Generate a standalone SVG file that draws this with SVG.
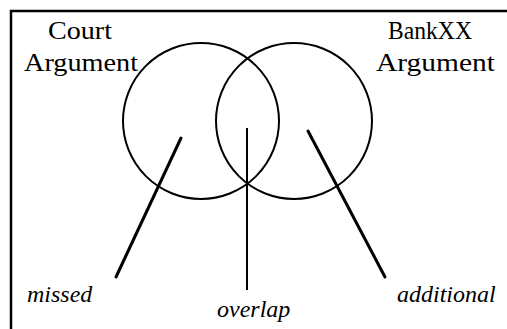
<svg xmlns="http://www.w3.org/2000/svg" width="507" height="329" viewBox="0 0 507 329">
<style>
.frame{fill:none;stroke:#000;stroke-width:2.5}
.circ{fill:none;stroke:#000;stroke-width:2}
.lead{stroke:#000;stroke-width:3;stroke-linecap:round}
.lead2{stroke:#000;stroke-width:2}
.title{font-family:'Liberation Serif','DejaVu Serif',serif;font-size:25px;fill:#000}
.lab{font-family:'Liberation Serif','DejaVu Serif',serif;font-size:24px;font-style:italic;fill:#000}
</style>
<rect width="507" height="329" fill="#fff"/>
<path class="frame" d="M11,329 V11 H507"/>
<g id="court">
<circle class="circ" cx="201" cy="121" r="78"/>
<text class="title" x="48" y="39" textLength="64" lengthAdjust="spacingAndGlyphs">Court</text>
<text class="title" x="24" y="71" textLength="114" lengthAdjust="spacingAndGlyphs">Argument</text>
</g>
<g id="bankxx">
<circle class="circ" cx="294" cy="121" r="78"/>
<text class="title" x="388" y="39" textLength="84" lengthAdjust="spacingAndGlyphs">BankXX</text>
<text class="title" x="376" y="71" textLength="119" lengthAdjust="spacingAndGlyphs">Argument</text>
</g>
<g id="missed"><text class="lab" x="27" y="302">missed</text></g>
<g id="overlap"><text class="lab" x="217" y="317">overlap</text></g>
<g id="additional"><text class="lab" x="397" y="302">additional</text></g>
<g id="connectors">
<line class="lead" x1="181" y1="138" x2="116" y2="277"/>
<line class="lead2" x1="247" y1="128" x2="247" y2="290"/>
<line class="lead" x1="308" y1="131" x2="385" y2="277"/>
</g>
</svg>
